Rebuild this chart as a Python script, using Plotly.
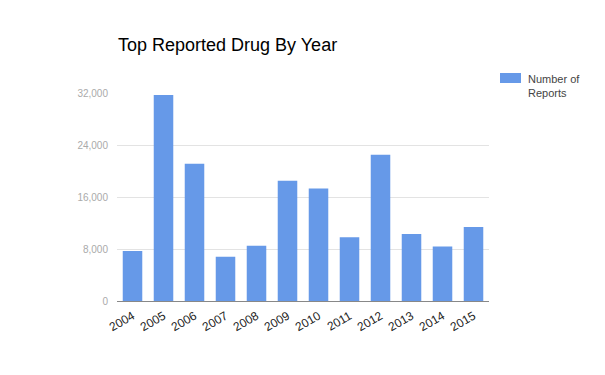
import plotly.graph_objects as go

years = ["2004", "2005", "2006", "2007", "2008", "2009", "2010", "2011", "2012", "2013", "2014", "2015"]
reports = [7700, 31700, 21100, 6800, 8500, 18500, 17300, 9800, 22500, 10300, 8400, 11400]
y_ticks = [0, 8000, 16000, 24000, 32000]
y_tick_labels = ["0", "8,000", "16,000", "24,000", "32,000"]
series_name = "Number of<br>Reports"
title_text = "Top Reported Drug By Year"
bar_color = "#6699e8"

W, H = 605, 375
L, R, T, B = 109, 124, 85, 82
pw, ph = W - L - R, H - T - B

def px_x(x):
    return (x - L) / pw

def px_y(y):
    return (H - B - y) / ph

fig = go.Figure()
fig.add_trace(go.Bar(
    x=years, y=reports, name=series_name,
    marker=dict(color=bar_color, line=dict(width=0)),
    showlegend=False,
))

fig.update_layout(
    width=W, height=H,
    margin=dict(l=L, r=R, t=T, b=B, autoexpand=False),
    paper_bgcolor="white", plot_bgcolor="white",
    font=dict(family="Liberation Sans, Arial, sans-serif"),
    title=dict(text=title_text, x=(L + 1) / W, xanchor="left", y=1 - 37 / H, yanchor="middle",
               font=dict(size=18, color="#000000")),
    bargap=0.37,
    showlegend=False,
    xaxis=dict(type="category", tickangle=-30, tickfont=dict(size=12, color="#222222"),
               showgrid=False, showline=False, ticks="", ticklabelstandoff=5),
    yaxis=dict(range=[0, 32000], tickvals=y_ticks, ticktext=y_tick_labels,
               tickfont=dict(size=10, color="#aaaaaa"),
               showgrid=True, gridcolor="#e3e3e3", gridwidth=1,
               zeroline=True, zerolinecolor="#888888", zerolinewidth=1,
               showline=False, ticks="", ticklabelstandoff=8),
    shapes=[dict(type="rect", xref="paper", yref="paper",
                 x0=px_x(492), x1=px_x(513), y0=px_y(75), y1=px_y(65),
                 fillcolor=bar_color, line=dict(width=0))],
    annotations=[dict(text=series_name, xref="paper", yref="paper",
                      x=px_x(518), y=px_y(63), xanchor="left", yanchor="top",
                      align="left", showarrow=False,
                      font=dict(size=11, color="#444444"))],
)

fig.write_html("out.html")
